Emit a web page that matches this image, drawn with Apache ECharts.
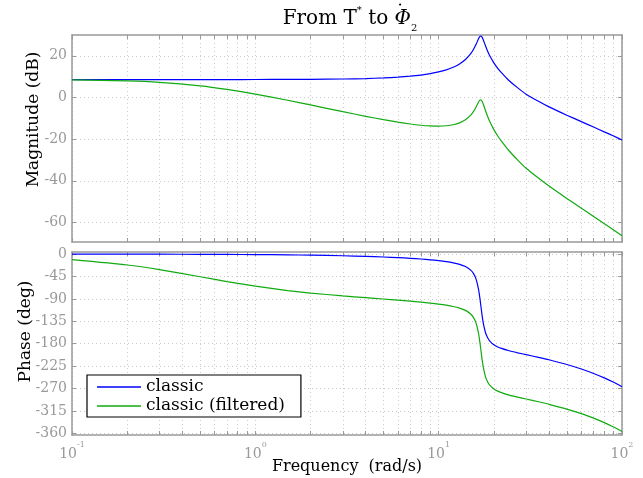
<!DOCTYPE html>
<html>
<head>
<meta charset="utf-8">
<script src="https://cdn.jsdelivr.net/npm/echarts@6/dist/echarts.min.js"></script>
<style>html,body{margin:0;padding:0;background:#fff}#c{width:643px;height:478px}</style>
</head>
<body>
<div id="c"></div>
<script>
// Frequencies (rad/s)
const freq = [0.1,0.2,0.3,0.5,0.7,1,1.5,2,3,4,5,6,7,8,9,10,11,12,13,14,15,15.5,16,16.5,16.75,17,17.25,17.5,18,18.5,19,20,21,22,24,27,30,35,40,50,60,70,80,90,100];
// Magnitude (dB)
const magClassic = [8.60,8.60,8.60,8.61,8.61,8.63,8.67,8.72,8.87,9.09,9.39,9.76,10.21,10.76,11.44,12.26,13.27,14.52,16.12,18.22,21.17,23.14,25.54,28.19,29.20,29.52,28.95,27.76,24.84,22.21,20.01,16.61,13.99,11.89,8.4,4.6,1.6,-1.8,-4.5,-8.5,-11.6,-14.2,-16.5,-18.5,-20.4];
const magFiltered = [8.43,7.96,7.27,5.60,3.90,1.64,-1.33,-3.58,-6.81,-9.04,-10.65,-11.85,-12.73,-13.33,-13.68,-13.77,-13.59,-13.09,-12.19,-10.73,-8.38,-6.69,-4.57,-2.18,-1.30,-1.11,-1.81,-3.13,-6.29,-9.16,-11.59,-15.43,-18.48,-20.98,-25.23,-30.05,-33.96,-38.70,-42.56,-48.50,-53.18,-57.12,-60.58,-63.61,-66.42];
// Phase (deg)
const phaseClassic = [-0.12,-0.23,-0.35,-0.59,-0.82,-1.17,-1.76,-2.36,-3.55,-4.77,-6.01,-7.30,-8.65,-10.08,-11.63,-13.35,-15.30,-17.67,-20.73,-25.16,-32.78,-39.44,-50.50,-70.80,-86.36,-104.81,-123.00,-138.03,-157.49,-168.12,-174.55,-182.01,-186.35,-189.37,-193.61,-198.15,-201.83,-207.21,-212.17,-221.57,-230.66,-239.63,-248.52,-257.37,-266.19];
const phaseFiltered = [-11.43,-22.03,-31.31,-45.59,-55.28,-64.60,-73.33,-78.32,-84.09,-87.64,-90.30,-92.54,-94.56,-96.50,-98.45,-100.49,-102.70,-105.28,-108.53,-113.11,-120.87,-127.59,-138.71,-159.06,-174.65,-193.13,-211.34,-226.39,-245.90,-256.57,-263.04,-270.58,-274.99,-278.07,-282.42,-287.09,-290.88,-296.39,-301.45,-311.00,-320.18,-329.22,-338.16,-347.05,-355.90];
// Ticks
const xGridTicks = [0.1,0.2,0.3,0.4,0.5,0.6,0.7,0.8,0.9,1,2,3,4,5,6,7,8,9,10,20,30,40,50,60,70,80,90,100];
const xLabelTicks = [0.1,1,10,100];
const magTicks = [-60,-40,-20,0,20];
const phaseTicks = [-360,-315,-270,-225,-180,-135,-90,-45,0];
const seriesNames = ['classic','classic (filtered)'];

const FONT = 'DejaVu Serif';
const frame = '#999999';
const tickLabelColor = '#999999';
const gridColor = '#cccccc';
const blue = '#0000ff';
const green = '#11aa11';

function xAx(gi, pos, labels) {
  return {
    type: 'log', logBase: 10, gridIndex: gi, position: pos, min: 0.1, max: 100,
    axisLine: {show: true, onZero: false, lineStyle: {color: frame, width: 1.5}},
    axisTick: {show: true, inside: true, length: 4, customValues: xGridTicks, lineStyle: {color: frame}},
    axisLabel: labels ? {
      show: true, customValues: xLabelTicks, margin: 6,
      formatter: function (v) { return '{b|10}{e|' + Math.round(Math.log10(v)) + '}'; },
      rich: {
        b: {fontFamily: FONT, fontSize: 14, color: tickLabelColor, lineHeight: 20, verticalAlign: 'bottom'},
        e: {fontFamily: FONT, fontSize: 8, color: tickLabelColor, verticalAlign: 'top'}
      }
    } : {show: false},
    splitLine: {show: pos === 'bottom', lineStyle: {color: gridColor, type: [1, 3], width: 1}},
    name: labels ? 'Frequency  (rad/s)' : '',
    nameLocation: 'middle', nameGap: 24, nameMoveOverlap: false,
    nameTextStyle: {fontFamily: FONT, fontSize: 16, color: '#000'}
  };
}
function yAx(gi, pos, min, max, ticks, name, gap, shift) {
  return {
    type: 'value', gridIndex: gi, position: pos, min: min, max: max,
    axisLine: {show: true, onZero: false, lineStyle: {color: frame, width: 1.5}},
    axisTick: {show: true, inside: true, length: 4, customValues: ticks, lineStyle: {color: frame}},
    axisLabel: pos === 'left' ? {show: true, customValues: ticks, margin: 5, fontFamily: FONT, fontSize: 14, color: tickLabelColor} : {show: false},
    splitLine: {show: pos === 'left', lineStyle: {color: gridColor, type: [1, 3], width: 1}},
    name: pos === 'left' ? name : '',
    nameLocation: 'middle', nameGap: gap, nameMoveOverlap: false,
    nameTextStyle: {fontFamily: FONT, fontSize: 17, color: '#000', padding: [0, 0, 0, shift || 0]}
  };
}
function line(name, xi, yi, ys, color) {
  return {
    name: name, type: 'line', xAxisIndex: xi, yAxisIndex: yi,
    data: freq.map(function (f, i) { return [f, ys[i]]; }),
    symbol: 'none', showSymbol: false, smooth: 0.2,
    lineStyle: {color: color, width: 1.2}, itemStyle: {color: color},
    animation: false, z: 3
  };
}

const chart = echarts.init(document.getElementById('c'), null, {renderer: 'canvas'});
chart.setOption({
  backgroundColor: '#fff',
  animation: false,
  title: {
    text: '{a|From T}{s|*}{a| to }{p|Φ}{b|2}',
    left: 345, top: 0, textAlign: 'center',
    textStyle: {
      fontWeight: 'normal',
      rich: {
        a: {fontFamily: FONT, fontSize: 20, fontWeight: 'normal', color: '#000', lineHeight: 28},
        s: {fontFamily: FONT, fontSize: 10, fontWeight: 'normal', color: '#000', verticalAlign: 'top'},
        p: {fontFamily: FONT, fontSize: 20, fontWeight: 'normal', fontStyle: 'italic', color: '#000'},
        b: {fontFamily: FONT, fontSize: 10, fontWeight: 'normal', color: '#000', verticalAlign: 'bottom'}
      }
    }
  },
  graphic: [{
    type: 'text', x: 400, y: 5, z: 10,
    style: {text: '•', fontFamily: FONT, fontSize: 7, fill: '#000', align: 'center', verticalAlign: 'middle'}
  }],
  grid: [
    {left: 72, top: 35, width: 550, height: 207, containLabel: false},
    {left: 72, top: 252, width: 550, height: 183, containLabel: false}
  ],
  legend: {
    data: seriesNames, orient: 'vertical', left: 87, top: 375,
    icon: 'rect', itemWidth: 44, itemHeight: 1.5, itemGap: 1,
    padding: [3, 16, 2, 10],
    backgroundColor: '#fff', borderColor: '#000', borderWidth: 1.2,
    textStyle: {fontFamily: FONT, fontSize: 17, color: '#000', lineHeight: 18}
  },
  xAxis: [xAx(0, 'bottom', false), xAx(0, 'top', false), xAx(1, 'bottom', true), xAx(1, 'top', false)],
  yAxis: [
    yAx(0, 'left', -69.4, 30, magTicks, 'Magnitude (dB)', 30, 38),
    yAx(0, 'right', -69.4, 30, magTicks, '', 0),
    yAx(1, 'left', -363, 4, phaseTicks, 'Phase (deg)', 38, 24),
    yAx(1, 'right', -363, 4, phaseTicks, '', 0)
  ],
  series: [
    line(seriesNames[0], 0, 0, magClassic, blue),
    line(seriesNames[1], 0, 0, magFiltered, green),
    line(seriesNames[0], 2, 2, phaseClassic, blue),
    line(seriesNames[1], 2, 2, phaseFiltered, green)
  ]
});
</script>
</body>
</html>
